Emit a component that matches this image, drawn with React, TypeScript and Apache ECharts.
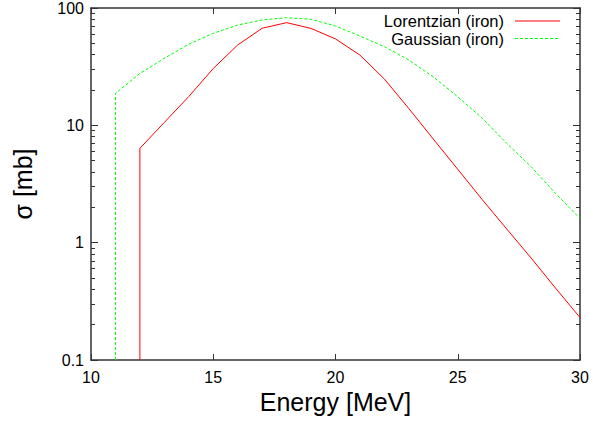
import React, { useEffect, useRef } from 'react';
import * as echarts from 'echarts';

const lorentzEnergy = [12, 12, 13, 14, 15, 16, 17, 18, 19, 20, 21, 22, 23, 24, 25, 26, 27, 28, 29, 30];
const lorentzSigma = [0.1, 6.37, 10.6, 17.6, 30.5, 48.4, 67.2, 75, 67, 54.5, 39.7, 24.8, 13.9, 7.64, 4.22, 2.33, 1.31, 0.74, 0.41, 0.23];

const gaussEnergy = [11, 11, 12, 13, 14, 15, 16, 17, 18, 19, 20, 21, 22, 23, 24, 25, 26, 27, 28, 29, 30];
const gaussSigma = [0.1, 18.7, 27.7, 37.3, 49.1, 60.9, 71.6, 79.1, 82.7, 80.1, 70.3, 57.7, 46.8, 36.0, 25.9, 17.5, 11.5, 7.03, 4.44, 2.63, 1.61];

const minorTicks = [0.2, 0.3, 0.4, 0.5, 0.6, 0.7, 0.8, 0.9, 2, 3, 4, 5, 6, 7, 8, 9, 20, 30, 40, 50, 60, 70, 80, 90];
const majorTicks = [0.1, 1, 10, 100];

const legendNames = ['Lorentzian (iron)', 'Gaussian (iron)'];
const FONT = "'Liberation Sans', Arial, Helvetica, sans-serif";

export default function App() {
  const ref = useRef<HTMLDivElement>(null);
  useEffect(() => {
    const chart = echarts.init(ref.current!, null, { renderer: 'svg' });
    const axisLine = { show: true, lineStyle: { color: '#333', width: 1.5 } };
    const logBase = { type: 'log' as const, min: 0.1, max: 100, logBase: 10, splitLine: { show: false } };
    chart.setOption({
      animation: false,
      textStyle: { fontFamily: FONT },
      grid: { left: 91, right: 13, top: 8, bottom: 61 },
      xAxis: [
        {
          type: 'value', min: 10, max: 30, interval: 5, position: 'bottom',
          axisLine, splitLine: { show: false },
          axisTick: { inside: true, length: 6, lineStyle: { color: '#333' } },
          axisLabel: { fontSize: 16, color: '#000', margin: 9, fontFamily: FONT },
          name: 'Energy [MeV]', nameLocation: 'middle', nameGap: 28,
          nameTextStyle: { fontSize: 25, color: '#000', fontFamily: FONT },
        },
        {
          type: 'value', min: 10, max: 30, interval: 5, position: 'top',
          axisLine, splitLine: { show: false },
          axisTick: { inside: true, length: 6, lineStyle: { color: '#333' } },
          axisLabel: { show: false },
        },
      ],
      yAxis: [
        {
          ...logBase, position: 'left', axisLine,
          axisTick: { inside: true, length: 7, customValues: majorTicks, lineStyle: { color: '#333' } },
          axisLabel: { fontSize: 16, color: '#000', margin: 7, fontFamily: FONT, customValues: majorTicks, formatter: (v: number) => String(v) },
          name: 'σ [mb]', nameLocation: 'middle', nameGap: 56,
          nameTextStyle: { fontSize: 25, color: '#000', fontFamily: FONT },
        },
        {
          ...logBase, position: 'left', axisLine: { show: false },
          axisTick: { inside: true, length: 4, customValues: minorTicks, lineStyle: { color: '#333' } },
          axisLabel: { show: false },
        },
        {
          ...logBase, position: 'right', axisLine,
          axisTick: { inside: true, length: 7, customValues: majorTicks, lineStyle: { color: '#333' } },
          axisLabel: { show: false },
        },
        {
          ...logBase, position: 'right', axisLine: { show: false },
          axisTick: { inside: true, length: 4, customValues: minorTicks, lineStyle: { color: '#333' } },
          axisLabel: { show: false },
        },
      ],
      series: [
        {
          name: legendNames[0], type: 'line', xAxisIndex: 0, yAxisIndex: 0, symbol: 'none',
          data: lorentzEnergy.map((e, i) => [e, lorentzSigma[i]]),
          lineStyle: { color: '#ff0000', width: 1 }, itemStyle: { color: '#ff0000' },
        },
        {
          name: legendNames[1], type: 'line', xAxisIndex: 0, yAxisIndex: 0, symbol: 'none',
          data: gaussEnergy.map((e, i) => [e, gaussSigma[i]]),
          lineStyle: { color: '#00ff00', width: 1, type: [3, 2] }, itemStyle: { color: '#00ff00' },
        },
      ],
      graphic: [
        { type: 'text', x: 504, y: 21, style: { text: legendNames[0], textAlign: 'right', textVerticalAlign: 'middle', fontSize: 16.5, fontFamily: FONT, fill: '#000' } },
        { type: 'text', x: 504, y: 38.5, style: { text: legendNames[1], textAlign: 'right', textVerticalAlign: 'middle', fontSize: 16.5, fontFamily: FONT, fill: '#000' } },
        { type: 'line', shape: { x1: 515, y1: 21, x2: 560, y2: 21 }, style: { stroke: '#ff0000', lineWidth: 1 } },
        { type: 'line', shape: { x1: 515, y1: 38.5, x2: 560, y2: 38.5 }, style: { stroke: '#00ff00', lineWidth: 1, lineDash: [3, 2] } },
      ],
    });
    return () => chart.dispose();
  }, []);
  return <div ref={ref} style={{ position: 'absolute', left: 0, top: 0, width: 593, height: 421 }} />;
}
